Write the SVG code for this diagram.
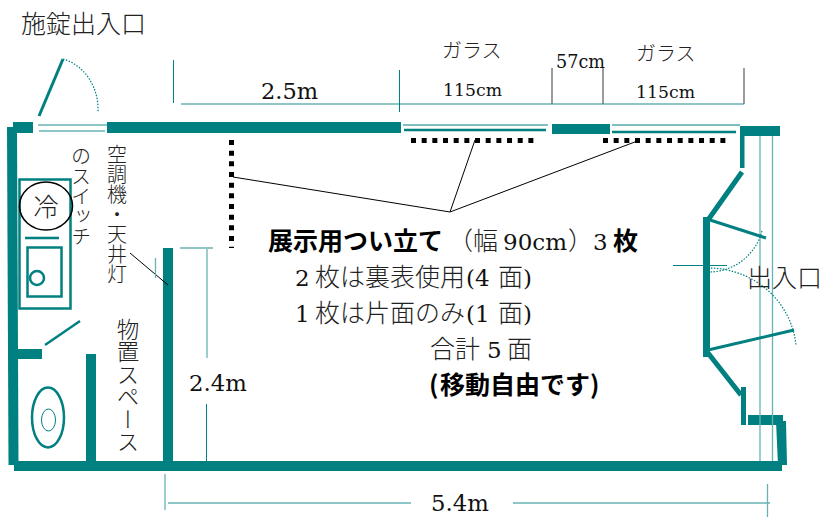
<svg xmlns="http://www.w3.org/2000/svg" width="822" height="517" viewBox="0 0 822 517" xml:lang="ja">
<style>
text{font-family:"DejaVu Serif","Noto Sans CJK JP",serif;fill:#111}
.j{font-family:"Noto Sans CJK JP",sans-serif;font-weight:300;fill:#222;font-size:25px}
.b{font-family:"Noto Sans CJK JP",sans-serif;font-weight:700;fill:#000;font-size:25px}
.v{writing-mode:vertical-rl;text-orientation:upright}
.w{fill:#008080;stroke:none}
.l{stroke:#008080;fill:none;stroke-width:2.5}
.t{stroke:#008080;fill:none;stroke-width:1}
.p{stroke:#66b3b3;fill:none;stroke-width:1.3}
.g{stroke:#666;fill:none;stroke-width:1.3}
.a{stroke:#008080;fill:none;stroke-width:1.2;stroke-dasharray:1.5 1.5}
.s{stroke:#000;fill:none;stroke-width:5;stroke-dasharray:5 5.67}
.k{stroke:#000;fill:none;stroke-width:1}
</style>
<g id="walls">
<rect class="w" x="13" y="122" width="20" height="11"/>
<rect class="w" x="107" y="122" width="294" height="11"/>
<polygon class="w" points="7,127 17,127 18.500,465 8.500,465"/>
<rect class="w" x="14" y="461" width="768" height="10"/>
<rect class="w" x="163" y="248" width="10" height="213"/>
<rect class="w" x="86" y="354" width="10" height="107"/>
<rect class="w" x="18" y="349" width="24" height="10"/>
<rect class="w" x="552" y="124" width="58" height="10"/>
<rect class="w" x="740" y="126" width="40" height="10"/>
<rect class="w" x="740" y="126" width="4.500" height="42"/>
<rect class="w" x="703" y="217" width="7" height="140"/>
<rect class="w" x="741" y="387" width="5" height="38"/>
<rect class="w" x="748" y="415" width="35" height="10"/>
<polygon class="w" points="776,421 786,421 787,465 778,465"/>
<line class="l" x1="742" y1="172" x2="708" y2="220" style="stroke-width:5"/>
<line class="l" x1="708" y1="353" x2="741" y2="395" style="stroke-width:5"/>
</g>
<g id="windows">
<line class="p" x1="38" y1="125" x2="107" y2="125"/>
<line class="p" x1="39" y1="131" x2="105" y2="131"/>
<line class="t" x1="403" y1="125" x2="548" y2="125"/>
<line class="l" x1="404" y1="130" x2="546" y2="130"/>
<line class="t" x1="612" y1="125" x2="740" y2="125"/>
<line class="l" x1="612" y1="132" x2="736" y2="132"/>
<line class="p" x1="760" y1="136" x2="760" y2="461"/>
<line class="p" x1="772.500" y1="136" x2="772.500" y2="461"/>
</g>
<g id="doors">
<line class="l" x1="39" y1="116" x2="63" y2="59" style="stroke-width:3"/>
<path class="a" d="M63 59A46 52 0 0 1 98 112"/>
<line class="l" x1="710" y1="220" x2="766" y2="238" style="stroke-width:3"/>
<line class="l" x1="708" y1="350" x2="794" y2="330" style="stroke-width:3"/>
<path class="a" d="M762 231A55 55 0 0 1 708 272"/>
<path class="a" d="M708 268A88 85 0 0 1 796 346"/>
<line class="l" x1="45" y1="345" x2="80" y2="321"/>
</g>
<g id="fixtures">
<rect class="l" x="19.500" y="179.500" width="51" height="129"/>
<rect class="l" x="27.500" y="247.500" width="34" height="49"/>
<line class="l" x1="25" y1="238" x2="59" y2="238"/>
<circle class="l" cx="37" cy="278" r="7"/>
<ellipse class="l" cx="48" cy="417.500" rx="16" ry="30"/>
<ellipse class="t" cx="48.500" cy="420" rx="7" ry="11"/>
</g>
<g id="fridge">
<ellipse cx="46" cy="206" rx="26.500" ry="24" fill="none" stroke="#000" stroke-width="1.600"/>
<text class="j" x="46" y="216" text-anchor="middle">冷</text>
</g>
<g id="screens">
<line class="s" x1="231.500" y1="140" x2="231.500" y2="248"/>
<line class="s" x1="411" y1="140.500" x2="535" y2="140.500"/>
<line class="s" x1="603" y1="140.500" x2="727" y2="140.500"/>
</g>
<g id="connectors">
<line class="k" x1="450" y1="212" x2="233" y2="177"/>
<line class="k" x1="450" y1="212" x2="475" y2="140"/>
<line class="k" x1="450" y1="212" x2="640" y2="140"/>
<line class="k" x1="130" y1="253" x2="168" y2="285"/>
<line class="t" x1="673" y1="265.500" x2="727" y2="265.500"/>
</g>
<g id="dimensions">
<line class="t" x1="173.500" y1="60" x2="173.500" y2="103"/>
<line class="p" x1="181" y1="104" x2="744" y2="104"/>
<line class="t" x1="399.500" y1="70" x2="399.500" y2="112"/>
<line class="g" x1="552" y1="68" x2="552" y2="104"/>
<line class="g" x1="603" y1="68" x2="603" y2="104"/>
<line class="g" x1="744" y1="68" x2="744" y2="104"/>
<line class="p" x1="180" y1="248" x2="213" y2="248"/>
<line class="p" x1="155.500" y1="258" x2="155.500" y2="278"/>
<line class="p" x1="207" y1="249" x2="207" y2="358"/>
<line class="t" x1="206.500" y1="404" x2="206.500" y2="461"/>
<line class="p" x1="165" y1="474" x2="165" y2="510"/>
<line class="p" x1="168" y1="503" x2="411" y2="503"/>
<line class="p" x1="513" y1="503" x2="770" y2="503"/>
<line class="p" x1="767.500" y1="484" x2="767.500" y2="517"/>
</g>
<g id="labels">
<text class="j" x="21" y="33">施錠出入口</text>
<text x="261" y="99" font-size="22.500">2.5m</text>
<text class="j" x="442" y="58" style="font-size:20px">ガラス</text>
<text x="443" y="96" font-size="17.300">115cm</text>
<text x="556" y="68" font-size="17.600">57cm</text>
<text class="j" x="636" y="61" style="font-size:20px">ガラス</text>
<text x="636" y="98" font-size="17.300">115cm</text>
<text class="j" x="747" y="287">出入口</text>
<text class="j v" x="81" y="146" style="font-size:20px">のスイッチ</text>
<text class="j v" x="117" y="144" style="font-size:20px">空調機・天井灯</text>
<text class="j v" x="128" y="318" style="font-size:22.500px">物置スペース</text>
<text x="189" y="391" font-size="22.800">2.4m</text>
<text x="431" y="511" font-size="22.800">5.4m</text>
<text class="b" x="268" y="250">展示用つい立て</text>
<text y="250" font-size="23"><tspan class="j" x="448">（幅</tspan><tspan x="503">90cm</tspan><tspan class="j" x="568">）</tspan><tspan x="593">3</tspan><tspan class="b" x="613">枚</tspan></text>
<text y="286" font-size="23"><tspan x="295">2</tspan><tspan class="j" x="315">枚は裏表使用</tspan><tspan x="466">(4</tspan><tspan class="j" x="498">面</tspan><tspan x="523">)</tspan></text>
<text y="322" font-size="23"><tspan x="295">1</tspan><tspan class="j" x="315">枚は片面のみ</tspan><tspan x="466">(1</tspan><tspan class="j" x="498">面</tspan><tspan x="523">)</tspan></text>
<text y="358" font-size="23"><tspan class="j" x="430">合計</tspan><tspan x="487">5</tspan><tspan class="j" x="507">面</tspan></text>
<text class="b" y="394"><tspan x="429">(</tspan><tspan x="440">移動自由です</tspan><tspan x="590">)</tspan></text>
</g>
</svg>
